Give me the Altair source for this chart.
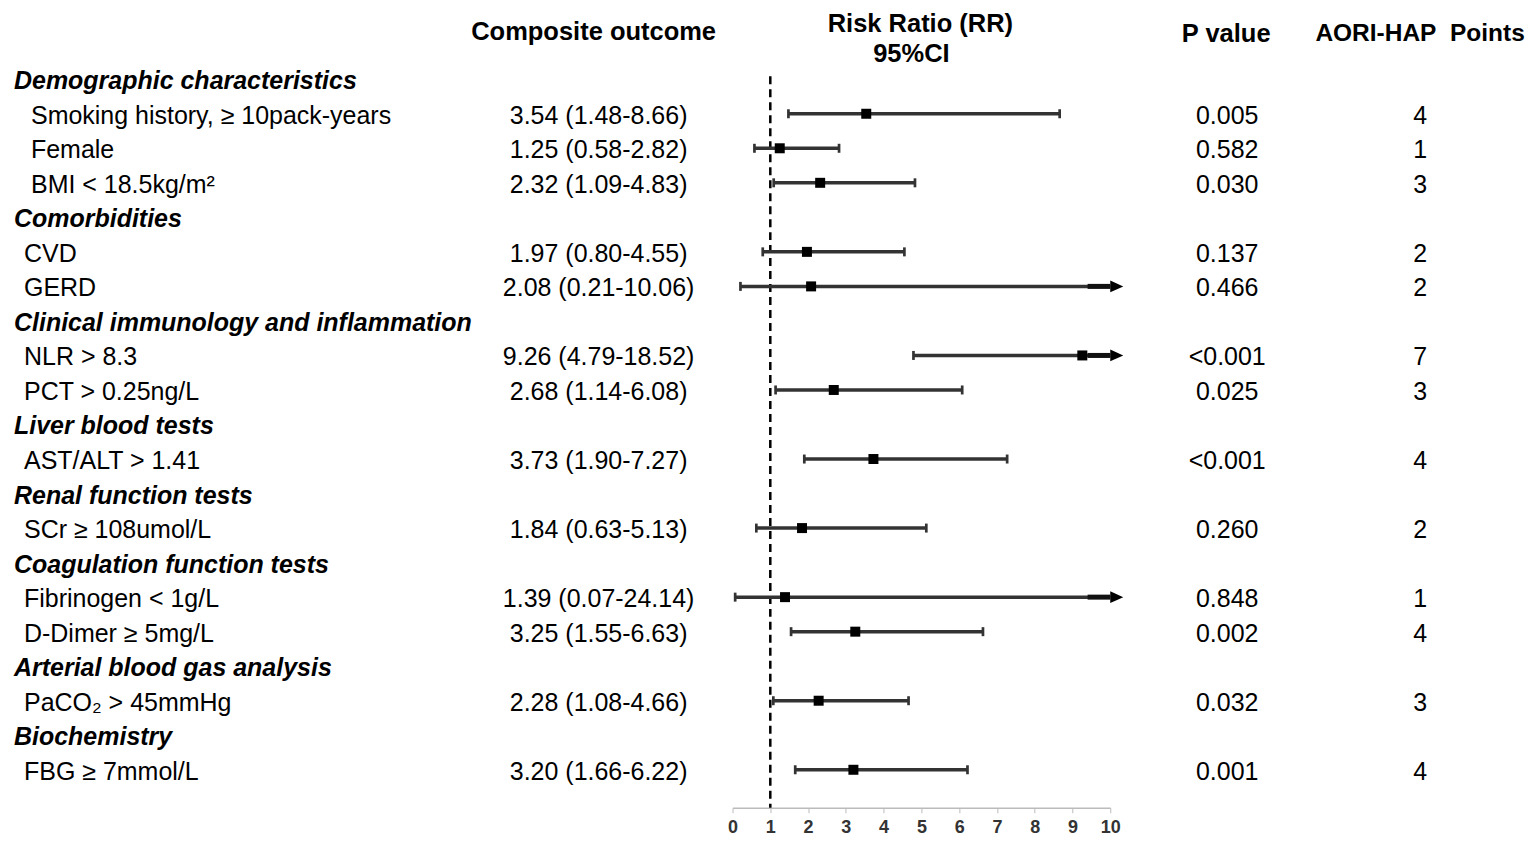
import altair as alt
import pandas as pd

NB = "\u00a0"

labels = [
    "Demographic characteristics",
    "Smoking history, ≥ 10pack-years",
    "Female",
    "BMI < 18.5kg/m²",
    "Comorbidities",
    "CVD",
    "GERD",
    "Clinical immunology and inflammation",
    "NLR > 8.3",
    "PCT > 0.25ng/L",
    "Liver blood tests",
    "AST/ALT > 1.41",
    "Renal function tests",
    "SCr ≥ 108umol/L",
    "Coagulation function tests",
    "Fibrinogen < 1g/L",
    "D-Dimer ≥ 5mg/L",
    "Arterial blood gas analysis",
    "PaCO₂ > 45mmHg",
    "Biochemistry",
    "FBG ≥ 7mmol/L",
]
is_header = [True, False, False, False, True, False, False, True, False, False,
             True, False, True, False, True, False, False, True, False, True, False]
rr = [None, 3.54, 1.25, 2.32, None, 1.97, 2.08, None, 9.26, 2.68, None, 3.73,
      None, 1.84, None, 1.39, 3.25, None, 2.28, None, 3.20]
lo = [None, 1.48, 0.58, 1.09, None, 0.80, 0.21, None, 4.79, 1.14, None, 1.90,
      None, 0.63, None, 0.07, 1.55, None, 1.08, None, 1.66]
hi = [None, 8.66, 2.82, 4.83, None, 4.55, 10.06, None, 18.52, 6.08, None, 7.27,
      None, 5.13, None, 24.14, 6.63, None, 4.66, None, 6.22]
pvals = ["", "0.005", "0.582", "0.030", "", "0.137", "0.466", "", "<0.001", "0.025",
         "", "<0.001", "", "0.260", "", "0.848", "0.002", "", "0.032", "", "0.001"]
points = ["", "4", "1", "3", "", "2", "2", "", "7", "3", "", "4", "", "2", "",
          "1", "4", "", "3", "", "4"]
ticks = list(range(11))

AXIS_MAX = 10

df = pd.DataFrame({
    "row": list(range(len(labels))),
    "label": labels,
    "header": is_header,
    "rr": rr,
    "lo": lo,
    "hi": hi,
    "p": pvals,
    "pts": points,
})
df["group"] = df["header"].cumsum() - 1
df["comp"] = [
    "" if h else f"{r:.2f} ({l:.2f}-{u:.2f})"
    for h, r, l, u in zip(df["header"], df["rr"], df["lo"], df["hi"])
]
df["hi_cap"] = df["hi"].clip(upper=AXIS_MAX)
df["arrow"] = df["hi"] > AXIS_MAX

items = df[~df["header"]].copy()
heads = df[df["header"]].copy()
arrows = items[items["arrow"]].copy()
arrows["thick_start"] = 9.4
arrows["end"] = float(AXIS_MAX)
capped = items[~items["arrow"]]
first_group = items[items["group"] == 0]
other_items = items[items["group"] != 0]
one = pd.DataFrame({"k": [0]})

FONT = "Liberation Sans"
FS = 25
DY = 2

xs = alt.Scale(domain=[0, 10], range=[725, 1103], nice=False, zero=False)
ys = alt.Scale(domain=[0, 20], range=[71, 762], nice=False, zero=False)

X = lambda f: alt.X(f, type="quantitative", scale=xs,
                    axis=alt.Axis(values=ticks, title=None, grid=False, format="d",
                                  labelOverlap=False, labelFlush=False,
                                  labelFont=FONT, labelFontSize=18, labelFontWeight="bold",
                                  labelColor="#333", domainColor="#bbbbbb", tickColor="#bbbbbb",
                                  domainWidth=1.5, tickSize=5, labelPadding=6))
Y = alt.Y("row:Q", scale=ys, axis=None)

base = alt.Chart(items)

ci = base.mark_rule(color="#333333", strokeWidth=3.5).encode(
    x=X("lo"), x2="hi_cap", y=Y)

thick = alt.Chart(arrows).mark_rule(color="#111111", strokeWidth=5).encode(
    x=X("thick_start"), x2="end", y=Y)

head = alt.Chart(arrows).mark_point(
    shape="M0,-0.9L2,0L0,0.9Z", filled=True, size=169, color="black", opacity=1
).encode(x=X("end"), y=Y)

cap_path = "M-0.3,-1H0.3V1H-0.3Z"
cap_lo = base.mark_point(shape=cap_path, filled=True, size=81, color="#333333", opacity=1).encode(
    x=X("lo"), y=Y)
cap_hi = alt.Chart(capped).mark_point(shape=cap_path, filled=True, size=81, color="#333333", opacity=1).encode(
    x=X("hi"), y=Y)

sq = base.mark_square(size=100, color="black", opacity=1).encode(x=X("rr"), y=Y)

ref = alt.Chart(one).mark_rule(color="black", strokeWidth=2.5, strokeDash=[8, 5]).encode(
    x=alt.datum(1, scale=xs), y=alt.value(68), y2=alt.value(800))

txt_head = alt.Chart(heads).mark_text(
    align="left", baseline="middle", font=FONT, fontSize=FS, fontStyle="italic",
    fontWeight="bold", color="black", dy=DY
).encode(x=alt.value(6), y=Y, text="label:N")

txt_item1 = alt.Chart(first_group).mark_text(
    align="left", baseline="middle", font=FONT, fontSize=FS, color="black", dy=DY
).encode(x=alt.value(23), y=Y, text="label:N")

txt_item = alt.Chart(other_items).mark_text(
    align="left", baseline="middle", font=FONT, fontSize=FS, color="black", dy=DY
).encode(x=alt.value(16), y=Y, text="label:N")

txt_comp = base.mark_text(
    align="center", baseline="middle", font=FONT, fontSize=FS, color="black", dy=DY
).encode(x=alt.value(591), y=Y, text="comp:N")

txt_p = base.mark_text(
    align="center", baseline="middle", font=FONT, fontSize=FS, color="black", dy=DY
).encode(x=alt.value(1220), y=Y, text="p:N")

txt_pts = base.mark_text(
    align="center", baseline="middle", font=FONT, fontSize=FS, color="black", dy=DY
).encode(x=alt.value(1413), y=Y, text="pts:N")


def title_text(t, x, y, fs=25.5):
    return alt.Chart(one).mark_text(
        text=t, align="center", baseline="middle", font=FONT, fontSize=fs,
        fontWeight="bold", color="black"
    ).encode(x=alt.value(x), y=alt.value(y))


titles = [
    title_text("Composite outcome", 586, 24),
    title_text("Risk Ratio (RR)", 913, 16),
    title_text("95%CI", 904, 46),
    title_text("P value", 1219, 26),
    title_text("AORI-HAP" + NB + NB + "Points", 1413, 26, 24.5),
]

chart = alt.layer(
    ref, ci, thick, head, cap_lo, cap_hi, sq,
    txt_head, txt_item1, txt_item, txt_comp, txt_p, txt_pts, *titles
).properties(
    width=1510, height=800,
    autosize=alt.AutoSizeParams(type="none"),
    padding={"left": 0, "top": 0, "right": 10, "bottom": 34},
).configure_view(strokeWidth=0)

chart.save("out.html", embed_options={"renderer": "svg", "actions": False})
